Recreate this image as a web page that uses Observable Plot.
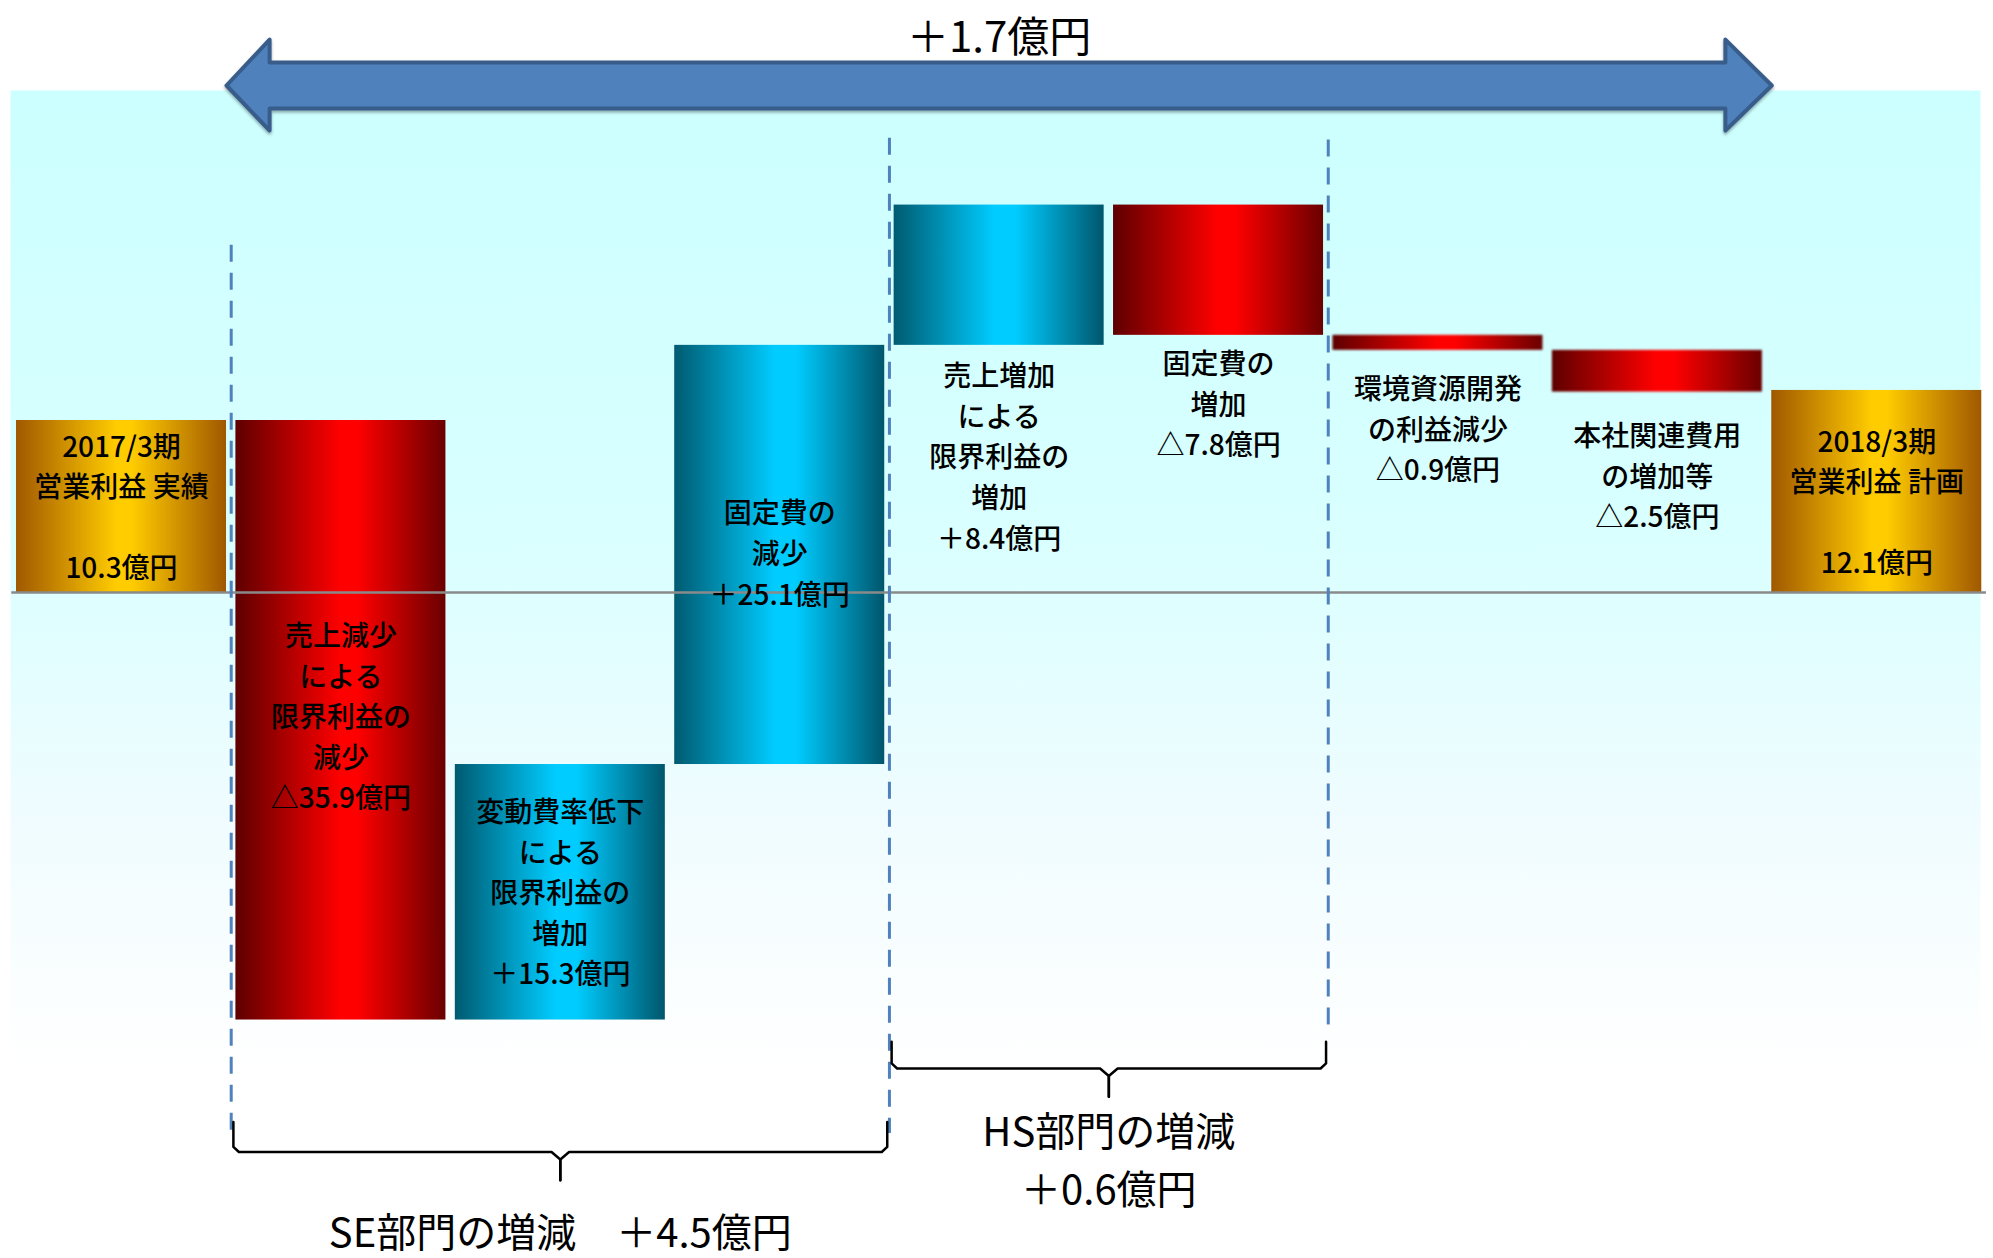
<!DOCTYPE html>
<html><head><meta charset="utf-8">
<script src="https://cdn.jsdelivr.net/npm/d3@7"></script>
<script src="https://cdn.jsdelivr.net/npm/@observablehq/plot@0.6"></script>
<style>
html,body{margin:0;padding:0;background:#fff;}
#chart{width:1993px;height:1258px;overflow:hidden;}
</style></head><body><div id="chart"></div>
<script>
// ---- data ----
const categories = [
  "2017/3期 営業利益 実績",
  "売上減少による限界利益の減少",
  "変動費率低下による限界利益の増加",
  "固定費の減少",
  "売上増加による限界利益の増加",
  "固定費の増加",
  "環境資源開発の利益減少",
  "本社関連費用の増加等",
  "2018/3期 営業利益 計画"
];
const values = [10.3, -35.9, 15.3, 25.1, 8.4, -7.8, -0.9, -2.5, 12.1];
const kinds = ["total","change","change","change","change","change","change","change","total"];
const barLabels = [
  "2017/3期\n営業利益 実績\n\n10.3億円",
  "売上減少\nによる\n限界利益の\n減少\n△35.9億円",
  "変動費率低下\nによる\n限界利益の\n増加\n＋15.3億円",
  "固定費の\n減少\n＋25.1億円",
  "売上増加\nによる\n限界利益の\n増加\n＋8.4億円",
  "固定費の\n増加\n△7.8億円",
  "環境資源開発\nの利益減少\n△0.9億円",
  "本社関連費用\nの増加等\n△2.5億円",
  "2018/3期\n営業利益 計画\n\n12.1億円"
];
const labelPlacement = ["inside","inside","inside","inside","below","below","below","below","inside"];
const groupNames = ["SE部門の増減　＋4.5億円", "HS部門の増減\n＋0.6億円"];
const groupFirst = [1, 4];
const groupLast = [3, 5];
const overallLabel = "＋1.7億円";

// ---- layout (pixels of the 1993x1258 page) ----
const W = 1993, H = 1258;
const xDomain = [-0.5515, 8.532];
const yDomain = [-39.88, 35.45];
const pxPerUnit = H / (yDomain[1] - yDomain[0]);
const half = 0.4786;
const font = "'Noto Sans CJK JP', 'Noto Sans', sans-serif";
const labelShiftPx = [-2, -6, -2, -4, 12, 10, 20, 25, 8]; // inside: shift of centre; below: gap under bar

// ---- waterfall ----
let cum = 0;
const bars = categories.map((c, i) => {
  let y1, y2;
  if (kinds[i] === "total") { y1 = 0; y2 = values[i]; cum = values[i]; }
  else { y1 = cum; y2 = cum + values[i]; cum = y2; }
  const color = kinds[i] === "total" ? "gold" : (values[i] < 0 ? "red" : "teal");
  return {i, category: c, value: values[i], y1, y2, lo: Math.min(y1, y2), hi: Math.max(y1, y2),
          color, label: barLabels[i], place: labelPlacement[i]};
});

// dividers between sections (x in bar-index units, y in value units)
const dividers = [
  {x: 0.5, y1: 20.8, y2: -32.2},
  {x: 3.5, y1: 27.2, y2: -32.4},
  {x: 5.5, y1: 27.1, y2: -26.0}
];

// braces below groups
const braceGeom = [{top: -31.7, h: -33.5, tip: -35.2}, {top: -26.9, h: -28.5, tip: -30.2}];
const bracePts = [];
groupNames.forEach((g, k) => {
  const x1 = groupFirst[k] - 0.49, x2 = groupLast[k] + 0.49, cx = (x1 + x2) / 2;
  const {top, h, tip} = braceGeom[k];
  for (const [side, xe, s] of [["L", x1, 1], ["R", x2, -1]]) {
    const z = g + side;
    bracePts.push({z, x: xe, y: top}, {z, x: xe, y: h + 0.3}, {z, x: xe + s * 0.025, y: h},
                  {z, x: cx - s * 0.04, y: h}, {z, x: cx, y: h - 0.45}, {z, x: cx, y: tip});
  }
});
const groupLabelPos = [{x: 2.0, y: -38.1}, {x: 4.5, y: -33.77}];
const groupLabels = groupNames.map((g, k) => ({text: g, ...groupLabelPos[k]}));

// big double arrow spanning start -> end
const xl = 0 + half, xr = 8 - half, xlb = 0.675, xrb = 7.31;
const sTop = 31.74, sBot = 28.98, hTop = 33.11, hBot = 27.66, mid = 30.36;
const arrowPts = [[xl, mid],[xlb, hTop],[xlb, sTop],[xrb, sTop],[xrb, hTop],[xr, mid],
                  [xrb, hBot],[xrb, sBot],[xlb, sBot],[xlb, hBot],[xl, mid]];

function defs() {
  const d = d3.create("svg:defs");
  const grads = {
    red: [["0%","#5e0000"],["50%","#ff0000"],["58%","#ff0000"],["100%","#6a0000"]],
    teal: [["0%","#005a70"],["48%","#00ccff"],["58%","#00ccff"],["100%","#00566c"]],
    gold: [["0%","#a05800"],["48%","#ffcc00"],["55%","#ffcc00"],["100%","#a05800"]]
  };
  for (const [k, stops] of Object.entries(grads)) {
    const g = d.append("linearGradient").attr("id", "g-" + k).attr("x1", 0).attr("x2", 1).attr("y1", 0).attr("y2", 0);
    stops.forEach(([o, c]) => g.append("stop").attr("offset", o).attr("stop-color", c));
  }
  const bg = d.append("linearGradient").attr("id", "g-bg").attr("x1", 0).attr("x2", 0).attr("y1", 0).attr("y2", 1);
  [["0%","#ccffff"],["45%","#d9ffff"],["75%","#f0fcff"],["100%","#ffffff"]]
    .forEach(([o, c]) => bg.append("stop").attr("offset", o).attr("stop-color", c));
  d.append("filter").attr("id", "soft").attr("x", "-5%").attr("y", "-30%").attr("width", "110%").attr("height", "160%")
    .append("feGaussianBlur").attr("stdDeviation", 1.2);
  d.append("filter").attr("id", "ashadow").attr("x", "-2%").attr("y", "-20%").attr("width", "104%").attr("height", "150%")
    .append("feDropShadow").attr("dx", 0).attr("dy", 2).attr("stdDeviation", 1.5).attr("flood-color", "#000").attr("flood-opacity", 0.35);
  return d.node();
}

const withFilter = (id) => (i, s, v, d, c, next) => { const g = next(i, s, v, d, c); g.setAttribute("filter", `url(#${id})`); return g; };
const barMark = (color, sel, opts = {}) => Plot.rect(bars.filter(d => d.color === color && sel(d)), {
  x1: d => d.i - half, x2: d => d.i + half, y1: "y1", y2: "y2", fill: `url(#g-${color})`, ...opts
});
const small = d => Math.abs(d.value) < 3;

const plot = Plot.plot({
  width: W, height: H, margin: 0,
  x: {type: "linear", domain: xDomain, axis: null},
  y: {type: "linear", domain: yDomain, axis: null},
  style: {fontFamily: font, background: "white", color: "black"},
  marks: [
    defs,
    Plot.frame({fill: "url(#g-bg)", stroke: "none", insetLeft: 10, insetRight: 13, insetTop: 90, insetBottom: 190}),
    Plot.line(arrowPts, {x: d => d[0], y: d => d[1], fill: "#4f81bd", stroke: "#385d8a", strokeWidth: 4,
      strokeLinejoin: "round", render: withFilter("ashadow")}),
    barMark("gold", () => true), barMark("teal", () => true),
    barMark("red", d => !small(d)),
    barMark("red", small, {render: withFilter("soft")}),
    Plot.ruleY([0], {x1: -0.5, x2: 8.5, stroke: "#8a8a8a", strokeWidth: 2.5}),
    Plot.ruleX(dividers, {x: "x", y1: "y1", y2: "y2", stroke: "#4f81bd", strokeWidth: 3, strokeDasharray: "17 11"}),
    Plot.text(bars.filter(d => d.place === "inside"), {
      x: "i", y: d => (d.y1 + d.y2) / 2 - labelShiftPx[d.i] / pxPerUnit, text: "label", lineAnchor: "middle",
      fontSize: 28, lineHeight: 1.45, fontWeight: 500, fill: "black"
    }),
    Plot.text(bars.filter(d => d.place === "below"), {
      x: "i", y: d => d.lo - labelShiftPx[d.i] / pxPerUnit, text: "label", lineAnchor: "top",
      fontSize: 28, lineHeight: 1.45, fontWeight: 500, fill: "black"
    }),
    Plot.line(bracePts, {x: "x", y: "y", z: "z", stroke: "black", strokeWidth: 2.5}),
    Plot.text(groupLabels, {x: "x", y: "y", text: "text", lineAnchor: "middle", fontSize: 40, lineHeight: 1.45, fontWeight: 400, fill: "black"}),
    Plot.text([overallLabel], {x: 4, y: 33.17, text: d => d, lineAnchor: "middle", fontSize: 42, fontWeight: 400, fill: "black"})
  ]
});
document.getElementById("chart").appendChild(plot);
</script>
</body></html>
